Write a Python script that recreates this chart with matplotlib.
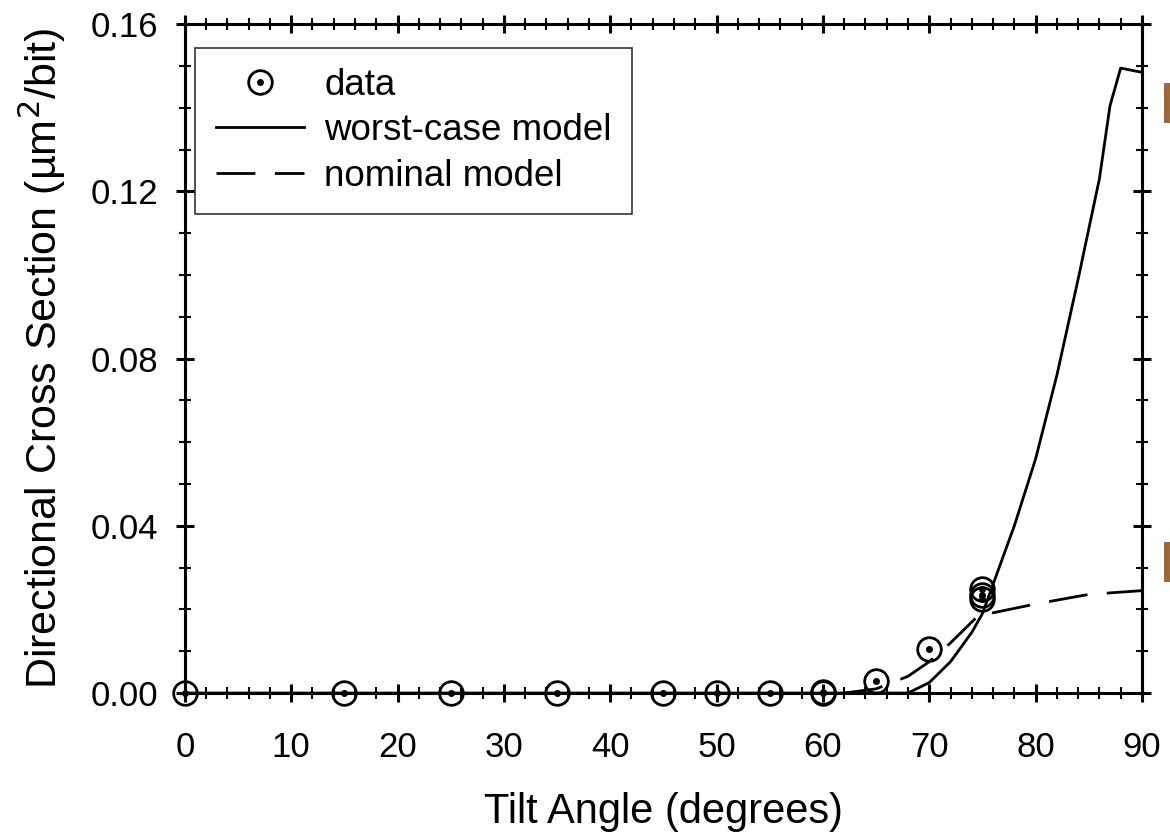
import matplotlib
matplotlib.use("Agg")
import matplotlib.pyplot as plt
from matplotlib.patches import Rectangle
from matplotlib.ticker import MultipleLocator, FormatStrFormatter

plt.rcParams['font.family'] = ['Liberation Sans', 'DejaVu Sans']

# measured points
data_angle = [0, 15, 25, 35, 45, 50, 55, 60, 60, 65, 70, 75, 75, 75]
data_xs = [0, 0, 0, 0, 0, 0, 0, 0, 0.0003, 0.003, 0.0105, 0.0225, 0.0235, 0.025]

# worst-case model
worst_angle = [0, 60, 68, 70, 72, 74, 75, 76, 78, 80, 82, 84, 86, 87, 88, 90]
worst_xs = [0, 0, 0, 0.0025, 0.0075, 0.0145, 0.019, 0.026, 0.040, 0.056, 0.076,
            0.099, 0.123, 0.1405, 0.1495, 0.1485]

# nominal model
nom_angle = [62, 65, 68, 70, 72, 75, 76, 80, 85, 90]
nom_xs = [0, 0.001, 0.004, 0.0075, 0.012, 0.0195, 0.0192, 0.0213, 0.0236, 0.0245]

fig = plt.figure(figsize=(11.7, 8.36), dpi=100)
ax = fig.add_axes([0.158, 0.171, 0.818, 0.800])

lw = 2.0
ax.plot(worst_angle, worst_xs, color='black', lw=lw, label='worst-case model')
ax.plot(nom_angle, nom_xs, color='black', lw=lw, dashes=(14, 7), label='nominal model')
ax.plot(data_angle, data_xs, linestyle='none', marker='o', markersize=17,
        markerfacecolor='none', markeredgecolor='black', markeredgewidth=2.0,
        clip_on=False, zorder=5)
ax.plot(data_angle, data_xs, linestyle='none', marker='o', markersize=4,
        color='black', clip_on=False, zorder=5)

# legend proxy for circle-with-dot marker
h_outer, = ax.plot([], [], linestyle='none', marker='o', markersize=17,
                   markerfacecolor='none', markeredgecolor='black', markeredgewidth=2.0)
h_inner, = ax.plot([], [], linestyle='none', marker='o', markersize=4, color='black')
handles, labels = ax.get_legend_handles_labels()
leg = ax.legend([(h_outer, h_inner)] + handles[:2],
                ['data'] + labels[:2], loc='upper left', fontsize=26.5,
                frameon=True, fancybox=False, edgecolor='black',
                handlelength=2.4, handletextpad=0.55, borderpad=0.55,
                labelspacing=0.28, borderaxespad=0,
                bbox_to_anchor=(0.011, 0.965))
leg.get_frame().set_linewidth(1.2)

ax.set_xlim(0, 90)
ax.set_ylim(0, 0.16)
ax.xaxis.set_major_locator(MultipleLocator(10))
ax.xaxis.set_minor_locator(MultipleLocator(2))
ax.yaxis.set_major_locator(MultipleLocator(0.04))
ax.yaxis.set_minor_locator(MultipleLocator(0.01))
ax.yaxis.set_major_formatter(FormatStrFormatter('%.2f'))

ax.tick_params(which='both', direction='inout', top=True, right=True, labelsize=25)
ax.tick_params(axis='x', pad=21)
ax.tick_params(axis='y', pad=13)
ax.tick_params(which='major', length=13, width=2.2)
ax.tick_params(which='minor', length=8.5, width=1.5)
for s in ax.spines.values():
    s.set_linewidth(2.2)

ax.set_xlabel('Tilt Angle (degrees)', fontsize=30, labelpad=20)
ax.set_ylabel('Directional Cross Section (\u00b5m$^2$/bit)', fontsize=31, labelpad=16)

# clipped brown marks at the right edge
for y0 in (0.853, 0.304):
    fig.patches.append(Rectangle((0.995, y0), 0.006, 0.048, transform=fig.transFigure,
                                 facecolor='#9c6a3a', edgecolor='none'))

fig.savefig('out.png', dpi=100)
